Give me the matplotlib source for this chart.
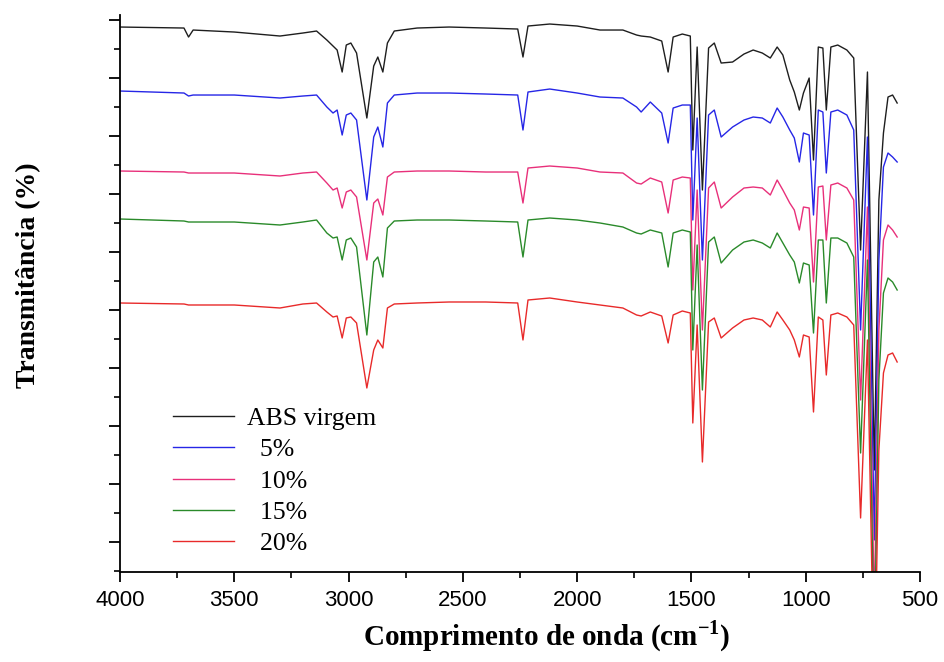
import matplotlib
matplotlib.use("Agg")
import matplotlib.pyplot as plt
from matplotlib.ticker import MultipleLocator

# FTIR spectra, transmittance in arbitrary units (curves offset)
wavenumber = [4000, 3720, 3700, 3680, 3500, 3300, 3200, 3140, 3095, 3068,
              3050, 3028, 3010, 2990, 2965, 2920, 2890, 2872, 2850, 2830,
              2800, 2700, 2560, 2400, 2260, 2237, 2215, 2120, 2000, 1900,
              1800, 1740, 1720, 1680, 1630, 1602, 1580, 1540, 1505, 1494,
              1475, 1452, 1425, 1400, 1370, 1320, 1270, 1230, 1190, 1155,
              1125, 1100, 1070, 1050, 1028, 1010, 985, 966, 945, 925,
              910, 890, 860, 820, 790, 760, 730, 700, 680, 660,
              640, 620, 600]

abs_virgem = [573, 572, 563, 570, 568, 564, 567, 569, 560, 554,
              550, 528, 555, 557, 547, 482, 534, 543, 528, 557,
              569, 572, 573, 572, 571, 543, 574, 576, 574, 570,
              570, 565, 564, 563, 559, 528, 563, 566, 564, 450,
              553, 410, 552, 557, 537, 538, 546, 550, 547, 542,
              553, 545, 520, 508, 490, 507, 522, 440, 553, 552,
              490, 553, 555, 550, 542, 350, 528, 130, 400, 467,
              503, 505, 497]

pct5 = [509, 507, 504, 505, 505, 502, 504, 505, 493, 487,
        490, 465, 485, 487, 480, 400, 463, 473, 453, 497,
        505, 507, 507, 506, 505, 470, 508, 511, 507, 503,
        502, 493, 488, 498, 487, 457, 492, 495, 495, 380,
        482, 340, 485, 490, 463, 473, 480, 483, 482, 477,
        492, 483, 470, 462, 438, 467, 465, 385, 490, 488,
        427, 488, 490, 485, 470, 270, 463, 60, 340, 433,
        447, 443, 438]

pct10 = [429, 428, 427, 427, 427, 424, 427, 428, 417, 410,
         412, 392, 408, 410, 403, 340, 397, 401, 385, 423,
         428, 429, 429, 428, 428, 397, 432, 434, 432, 428,
         427, 417, 416, 422, 418, 387, 420, 423, 422, 310,
         410, 270, 412, 418, 392, 403, 412, 413, 412, 405,
         420, 410, 397, 390, 370, 393, 392, 318, 413, 414,
         360, 415, 417, 412, 400, 200, 393, -10, 270, 360,
         375, 370, 363]

pct15 = [381, 379, 378, 378, 378, 375, 378, 380, 367, 362,
         363, 340, 360, 362, 353, 265, 338, 343, 323, 372,
         379, 380, 380, 379, 378, 343, 380, 382, 380, 377,
         373, 367, 366, 370, 367, 333, 367, 370, 368, 250,
         355, 210, 358, 363, 337, 350, 358, 360, 357, 352,
         367, 357, 345, 338, 317, 337, 335, 267, 360, 360,
         297, 362, 362, 357, 343, 147, 340, -60, 220, 307,
         322, 318, 310]

pct20 = [297, 296, 295, 295, 295, 292, 296, 297, 288, 283,
         284, 262, 282, 283, 277, 212, 250, 260, 252, 292,
         296, 297, 298, 298, 297, 260, 300, 302, 298, 295,
         292, 285, 284, 288, 284, 257, 285, 289, 287, 177,
         275, 138, 278, 282, 262, 272, 280, 282, 280, 273,
         288, 280, 270, 260, 243, 265, 263, 188, 283, 280,
         225, 285, 287, 283, 275, 82, 260, -100, 150, 227,
         245, 247, 238]

series = [abs_virgem, pct5, pct10, pct15, pct20]
labels = ["ABS virgem", "  5%", "  10%", "  15%", "  20%"]
colors = ["#1e1e1e", "#2626e6", "#e8307a", "#2a8a2a", "#e82a2a"]

plt.rcParams["mathtext.fontset"] = "custom"
plt.rcParams["mathtext.rm"] = "Liberation Serif"
plt.rcParams["mathtext.bf"] = "Liberation Serif:bold"

fig = plt.figure(figsize=(9.44, 6.62), dpi=100)
ax = fig.add_axes([0.1271, 0.1360, 0.8475, 0.8413])

for ys, lab, c in zip(series, labels, colors):
    ax.plot(wavenumber, ys, color=c, lw=1.0, label=lab)

ax.set_xlim(4000, 500)
ax.set_ylim(28, 585)

ax.spines["top"].set_visible(False)
ax.spines["right"].set_visible(False)
ax.spines["left"].set_linewidth(1.3)
ax.spines["bottom"].set_linewidth(1.3)

ax.xaxis.set_major_locator(MultipleLocator(500))
ax.xaxis.set_minor_locator(MultipleLocator(250))
ax.yaxis.set_major_locator(MultipleLocator(58))
ax.yaxis.set_minor_locator(MultipleLocator(29))
ax.tick_params(axis="x", which="major", direction="out", length=7, width=1.3, pad=6)
ax.tick_params(axis="x", which="minor", direction="out", length=4, width=1.2)
ax.tick_params(axis="y", which="major", direction="out", length=8, width=1.3, labelleft=False)
ax.tick_params(axis="y", which="minor", direction="out", length=4, width=1.2)
for t in ax.get_xticklabels():
    t.set_fontfamily("Liberation Sans")
    t.set_fontsize(16)

ax.set_xlabel(r"Comprimento de onda (cm$^{\mathbf{-1}}$)", fontfamily="Liberation Serif",
              fontweight="bold", fontsize=21)
ax.xaxis.set_label_coords(0.534, -0.084)
ax.set_ylabel("Transmitância (%)", fontfamily="Liberation Serif",
              fontweight="bold", fontsize=20)
ax.yaxis.set_label_coords(-0.099, 0.533)

leg = ax.legend(loc="upper left", bbox_to_anchor=(0.066, 0.296), frameon=False,
                prop={"family": "Liberation Serif", "size": 18.5},
                handlelength=2.4, handletextpad=0.5, labelspacing=0.32,
                borderpad=0, borderaxespad=0)

fig.savefig("out.png", dpi=100)
